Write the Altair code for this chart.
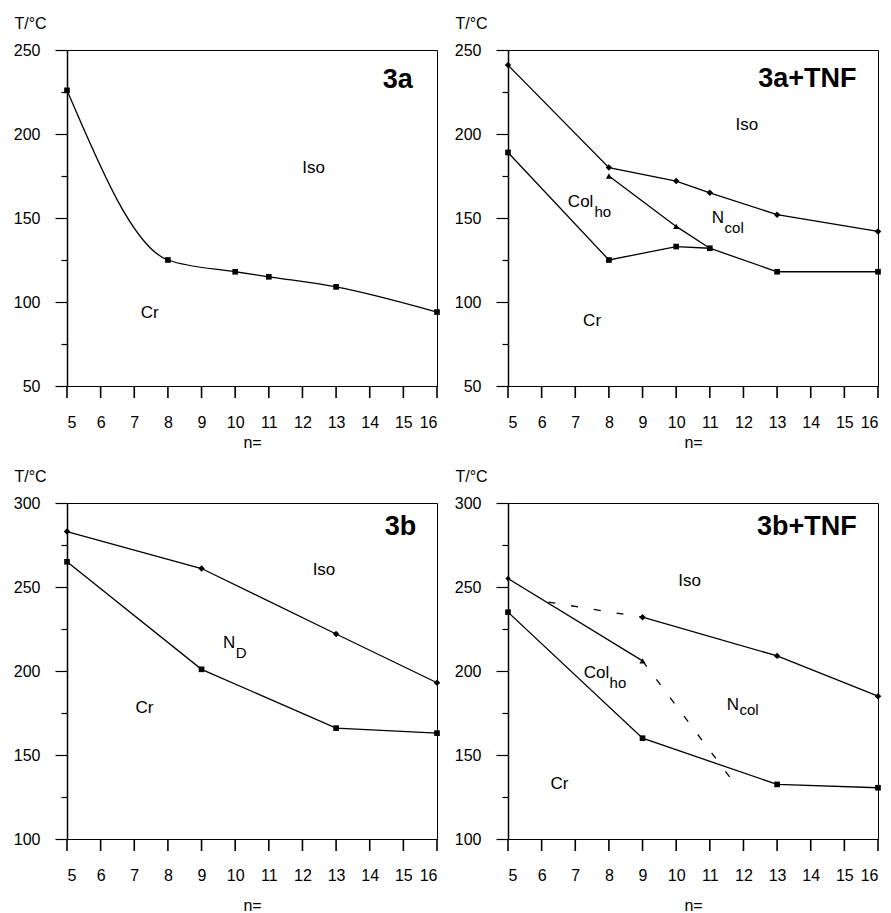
import altair as alt
import pandas as pd

FONT = "Liberation Sans"

# ---------------- data ----------------
# Panel 3a
a_n = [5, 8, 10, 11, 13, 16]
a_T = [226, 125, 118, 115, 109, 94]

# Panel 3a+TNF
at_iso_n = [5, 8, 10, 11, 13, 16]
at_iso_T = [241, 180, 172, 165, 152, 142]
at_ncol_n = [8, 10, 11]
at_ncol_T = [175, 145, 132]
at_tri_n = [8, 10]
at_tri_T = [175, 145]
at_cr_n = [5, 8, 10, 11, 13, 16]
at_cr_T = [189, 125, 133, 132, 118, 118]

# Panel 3b
b_iso_n = [5, 9, 13, 16]
b_iso_T = [283, 261, 222, 193]
b_cr_n = [5, 9, 13, 16]
b_cr_T = [265, 201, 166, 163]

# Panel 3b+TNF
bt_col_n = [5, 9]
bt_col_T = [255, 206]
bt_cr_n = [5, 9, 13, 16]
bt_cr_T = [235, 160, 132.5, 130.5]
bt_iso_n = [9, 13, 16]
bt_iso_T = [232, 209, 185]
bt_dash1_n = [6.2, 9]
bt_dash1_T = [241, 232]
bt_dash2_n = [9, 11.7]
bt_dash2_T = [206, 134]

# region labels: text, n, T
a_lab = [("Iso", 12.33, 180), ("Cr", 7.46, 93.5)]
at_lab = [("Iso", 12.1, 205.4), ("Col", 6.78, 159.3), ("N", 11.06, 149.8), ("Cr", 7.5, 88.7)]
at_sub = [("ho", 7.57, 153.8), ("col", 11.44, 143.8)]
b_lab = [("Iso", 12.64, 260.2), ("N", 9.64, 216.6), ("Cr", 7.3, 177.8)]
b_sub = [("D", 10.02, 211)]
bt_lab = [("Iso", 10.4, 253.3), ("Col", 7.25, 198.7), ("N", 11.5, 180), ("Cr", 6.53, 133)]
bt_sub = [("ho", 8.02, 193), ("col", 11.88, 176.6)]

titles = {"3a": (15.28, 232), "3a+TNF": (15.36, 233), "3b": (15.38, 286), "3b+TNF": (15.37, 285.6)}

x_ticks = list(range(5, 17))

PLOT_W, PLOT_H = 370, 336


def df(n, T):
    return pd.DataFrame({"n": n, "T": T})


def lab_df(rows):
    return pd.DataFrame(rows, columns=["label", "n", "T"])


def panel(lines, points, labels, subs, ydom, title, xtitle_y):
    y_ticks = list(range(ydom[0], ydom[1] + 1, 25))
    xenc = alt.X("n:Q", scale=alt.Scale(domain=[5, 16], nice=False, zero=False),
                 axis=alt.Axis(values=x_ticks, title="n=", ticks=False, labelPadding=28,
                               titleY=xtitle_y, titleBaseline="middle", titleFontWeight="normal",
                               titleFontSize=16, domain=False, grid=False))
    yenc = alt.Y("T:Q", scale=alt.Scale(domain=ydom, nice=False, zero=False),
                 axis=alt.Axis(values=y_ticks, title="T/°C", titleAngle=0, titleX=-53, titleY=-27,
                               titleAlign="left", titleBaseline="middle", titleFontWeight="normal",
                               titleFontSize=16,
                               labelExpr="datum.value % 50 === 0 ? datum.label : ''",
                               tickSize={"condition": {"test": "datum.value % 50 === 0", "value": 12}, "value": 6},
                               labelPadding=15, domain=True, domainColor="black", domainWidth=1.5,
                               grid=False))
    layers = []
    # x-axis tick marks hanging below the frame
    layers.append(alt.Chart(pd.DataFrame({"n": x_ticks})).mark_rule(color="black", strokeWidth=1.6)
                  .encode(x=xenc, y=alt.value(PLOT_H), y2=alt.value(PLOT_H + 12)))
    for d, interp, dash in lines:
        kw = dict(color="black", strokeWidth=1.3, interpolate=interp)
        if dash:
            kw["strokeDash"] = dash
        layers.append(alt.Chart(d).mark_line(**kw).encode(x=xenc, y=yenc))
    for d, shape, size in points:
        layers.append(alt.Chart(d).mark_point(filled=True, shape=shape, size=size, color="black",
                                              opacity=1).encode(x=xenc, y=yenc))
    for rows, align, fs in labels:
        if rows:
            layers.append(alt.Chart(lab_df(rows)).mark_text(align=align, baseline="middle", fontSize=fs,
                                                            font=FONT, color="black")
                          .encode(x=xenc, y=yenc, text="label:N"))
    for rows in subs:
        if rows:
            layers.append(alt.Chart(lab_df(rows)).mark_text(align="left", baseline="middle", fontSize=15,
                                                            font=FONT, color="black")
                          .encode(x=xenc, y=yenc, text="label:N"))
    tn, tT = titles[title]
    layers.append(alt.Chart(lab_df([(title, tn, tT)])).mark_text(align="right", baseline="middle",
                                                                 fontSize=27, fontWeight="bold",
                                                                 font=FONT, color="black")
                  .encode(x=xenc, y=yenc, text="label:N"))
    return alt.layer(*layers).properties(width=PLOT_W, height=PLOT_H)


p1 = panel(
    lines=[(df(a_n, a_T), "monotone", None)],
    points=[(df(a_n, a_T), "square", 32)],
    labels=[(a_lab, "center", 17)], subs=[],
    ydom=[50, 250], title="3a", xtitle_y=56)

p2 = panel(
    lines=[(df(at_iso_n, at_iso_T), "linear", None),
           (df(at_ncol_n, at_ncol_T), "linear", None),
           (df(at_cr_n, at_cr_T), "linear", None)],
    points=[(df(at_iso_n, at_iso_T), "diamond", 42),
            (df(at_tri_n, at_tri_T), "triangle-up", 38),
            (df(at_cr_n, at_cr_T), "square", 32)],
    labels=[([r for r in at_lab if r[0] in ("Iso", "Cr")], "center", 17),
            ([r for r in at_lab if r[0] in ("Col", "N")], "left", 17)],
    subs=[at_sub], ydom=[50, 250], title="3a+TNF", xtitle_y=56)

p3 = panel(
    lines=[(df(b_iso_n, b_iso_T), "linear", None),
           (df(b_cr_n, b_cr_T), "linear", None)],
    points=[(df(b_iso_n, b_iso_T), "diamond", 42),
            (df(b_cr_n, b_cr_T), "square", 32)],
    labels=[([r for r in b_lab if r[0] in ("Iso", "Cr")], "center", 17),
            ([r for r in b_lab if r[0] == "N"], "left", 17)],
    subs=[b_sub], ydom=[100, 300], title="3b", xtitle_y=66)

p4 = panel(
    lines=[(df(bt_col_n, bt_col_T), "linear", None),
           (df(bt_cr_n, bt_cr_T), "linear", None),
           (df(bt_iso_n, bt_iso_T), "linear", None),
           (df(bt_dash1_n, bt_dash1_T), "linear", [7, 16]),
           (df(bt_dash2_n, bt_dash2_T), "linear", [7, 16])],
    points=[(df(bt_col_n[:1], bt_col_T[:1]), "diamond", 28),
            (df(bt_col_n[1:], bt_col_T[1:]), "triangle-up", 38),
            (df(bt_cr_n, bt_cr_T), "square", 32),
            (df(bt_iso_n, bt_iso_T), "diamond", 42)],
    labels=[([r for r in bt_lab if r[0] in ("Iso", "Cr")], "center", 17),
            ([r for r in bt_lab if r[0] in ("Col", "N")], "left", 17)],
    subs=[bt_sub], ydom=[100, 300], title="3b+TNF", xtitle_y=66)

chart = alt.vconcat(
    alt.hconcat(p1, p2, spacing=12),
    alt.hconcat(p3, p4, spacing=12),
    spacing=16,
).properties(
    padding={"left": 4, "top": 6, "right": 0, "bottom": 0}
).configure_view(
    stroke="black", strokeWidth=1
).configure_axis(
    labelFont=FONT, titleFont=FONT, labelFontSize=16, labelColor="black", titleColor="black",
    tickColor="black", tickWidth=1.2
)

chart.save("out.html", embed_options={"renderer": "svg", "actions": False})
